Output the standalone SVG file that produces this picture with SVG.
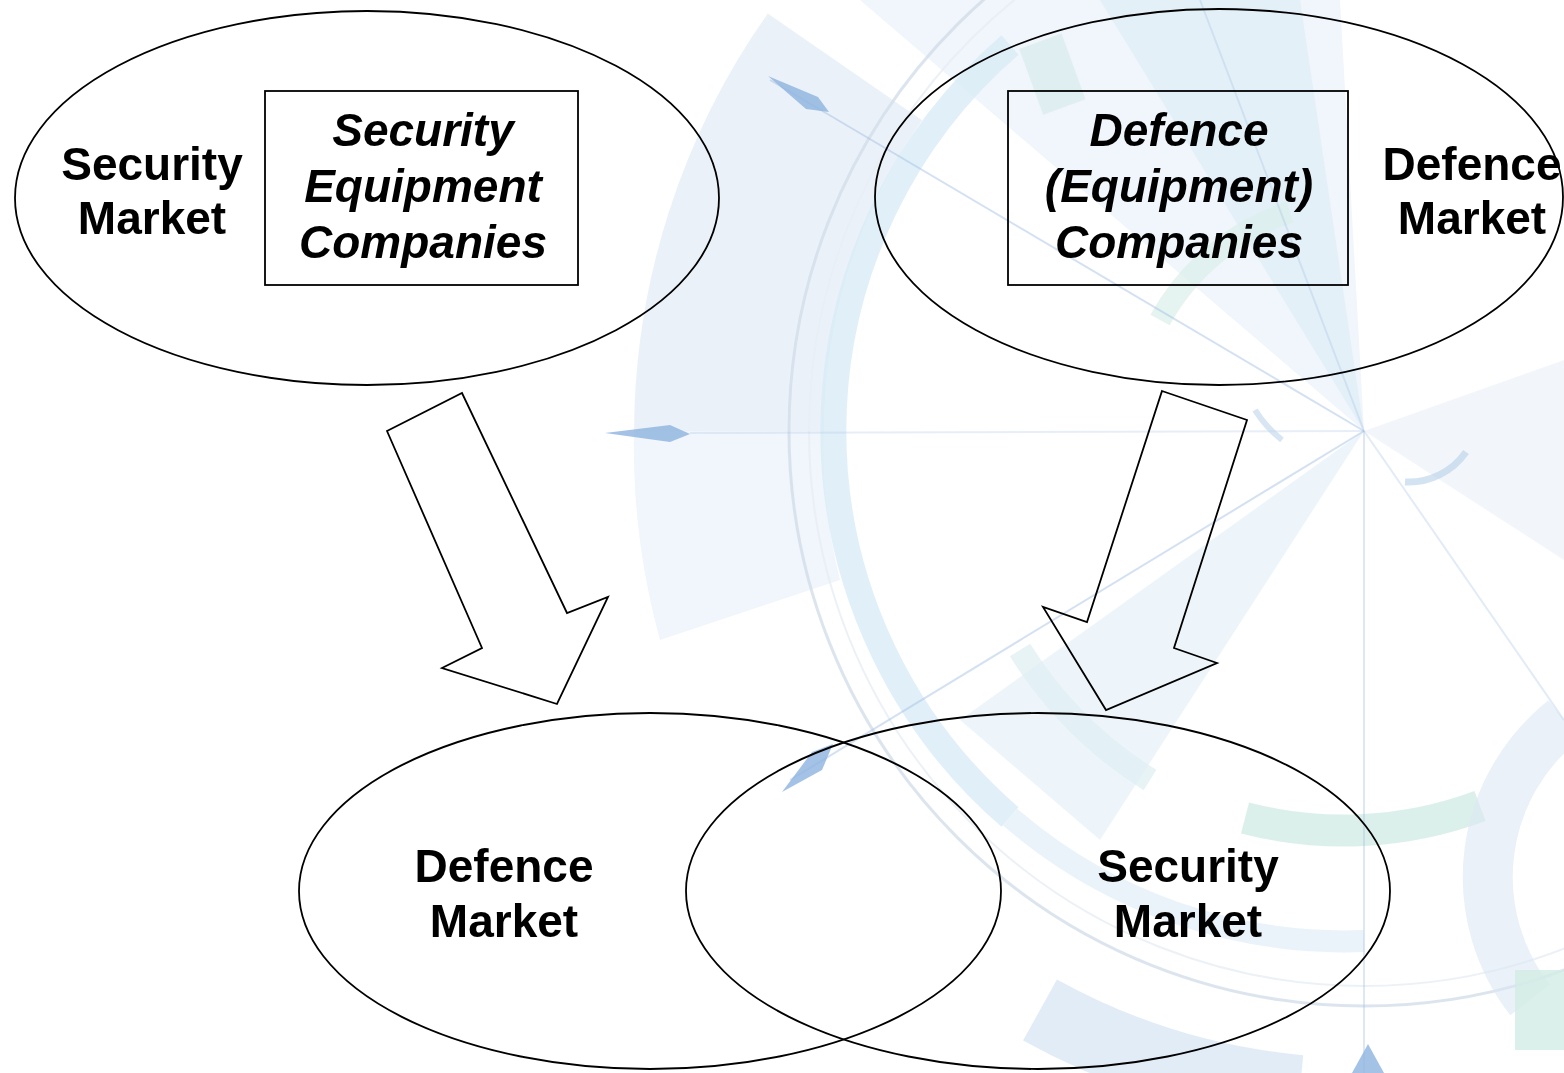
<svg xmlns="http://www.w3.org/2000/svg" width="1564" height="1073" viewBox="0 0 1564 1073">
<style>
.ln{fill:none;stroke:#000;stroke-width:1.8}
.t{font-family:"Liberation Sans",Arial,sans-serif;font-weight:bold;font-size:46px;fill:#000;text-anchor:middle}
.i{font-style:italic}
.bg1{fill:#dde9f5}
.bg2{fill:#c9e3f2}
.bg3{fill:#cfe9e4}
.dia{fill:#6e9fd6}
.ray{stroke:#7ea6d6;stroke-width:2;fill:none}
</style>
<rect width="1564" height="1073" fill="#ffffff"/>
<g id="background" opacity="0.75">
  <!-- fan panels centred on (1364,431) -->
  <path class="bg1" opacity="0.8" d="M 767.8 13.5 A 730 730 0 0 0 634 431 L 824 431 A 540 540 0 0 1 922.1 120.3 Z"/>
  <path class="bg1" opacity="0.6" d="M 634 431 A 730 730 0 0 0 660 640 L 840 580 A 540 540 0 0 1 824 431 Z"/>
  <path class="bg1" opacity="0.6" d="M 860 0 L 1364 431 L 1340 0 Z"/>
  <path class="bg2" opacity="0.5" d="M 1364 431 L 1100 0 L 1300 0 Z"/>
  <path class="bg1" opacity="0.5" d="M 1364 431 L 1564 360 L 1564 560 Z"/>
  <path class="bg2" opacity="0.45" d="M 1364 431 L 960 720 L 1100 840 Z"/>
  <!-- thick band arc -->
  <path fill="none" stroke="#cde6f4" stroke-width="26" opacity="0.8" d="M 1010 45 A 510 510 0 0 0 1010 817"/>
  <path fill="none" stroke="#d5e8f3" stroke-width="22" opacity="0.7" d="M 1010 817 A 510 510 0 0 0 1364 941"/>
  <!-- thin grey circle -->
  <circle cx="1364" cy="431" r="575" fill="none" stroke="#c5d3e2" stroke-width="3" opacity="0.8"/>
  <circle cx="1364" cy="431" r="555" fill="none" stroke="#e0e8f0" stroke-width="2" opacity="0.8"/>
  <!-- teal/green bands -->
  <path fill="none" stroke="#c6e6de" stroke-width="32" opacity="0.8" d="M 1245 818 A 392 392 0 0 0 1480 806"/>
  <path fill="none" stroke="#cfe9e4" stroke-width="22" opacity="0.7" d="M 1160 320 A 232 232 0 0 1 1290 212"/>
  <path fill="none" stroke="#d3e8ee" stroke-width="24" opacity="0.7" d="M 1020 650 A 410 410 0 0 0 1150 780"/>
  <!-- outer blue band at bottom -->
  <path fill="none" stroke="#c7dcf0" stroke-width="70" opacity="0.7" d="M 1040 1010 A 660 660 0 0 0 1300 1090"/>
  <!-- right side circle -->
  <path fill="none" stroke="#cfdff0" stroke-width="50" opacity="0.6" d="M 1564 720 A 200 200 0 0 0 1530 1000"/>
  <rect x="1515" y="970" width="49" height="80" fill="#c4e6dc" opacity="0.8"/>
  <rect x="1030" y="40" width="45" height="70" fill="#c4e2e2" opacity="0.6" transform="rotate(-20 1050 75)"/>
  <!-- radial lines -->
  <line class="ray" x1="1364" y1="431" x2="770" y2="80" opacity="0.45"/>
  <line class="ray" x1="1364" y1="431" x2="790" y2="780" opacity="0.45"/>
  <line class="ray" x1="1364" y1="431" x2="1364" y2="1073" opacity="0.35"/>
  <line class="ray" x1="1364" y1="431" x2="1564" y2="720" opacity="0.3"/>
  <line class="ray" x1="1364" y1="431" x2="1200" y2="0" opacity="0.3"/>
  <line class="ray" x1="1364" y1="431" x2="690" y2="433" opacity="0.25"/>
  <!-- small arc marks -->
  <path fill="none" stroke="#9fbfe0" stroke-width="7" opacity="0.6" d="M 1405 482 A 70 70 0 0 0 1466 452"/>
  <path fill="none" stroke="#a8c6e4" stroke-width="6" opacity="0.6" d="M 1255 410 A 120 120 0 0 0 1282 440"/>
  <!-- diamonds -->
  <polygon class="dia" opacity="0.85" points="768,76 818,97 829,112 806,109"/>
  <polygon class="dia" opacity="0.85" points="605,433 670,425 690,434 670,442"/>
  <polygon class="dia" opacity="0.85" points="782,792 812,752 833,744 822,770"/>
  <polygon class="dia" opacity="0.85" points="1352,1073 1368,1044 1384,1073"/>
</g>

<g id="connectors">
  <polygon id="arrow-left" class="ln" points="387,431 462,393 567,613 608,597 557,704 442,668 482,648"/>
  <polygon id="arrow-right" class="ln" points="1162,391 1247,420 1174,648 1217,663 1106,710 1043,607 1087,622"/>
</g>

<g id="node-security-market-top">
  <ellipse class="ln" cx="367" cy="198" rx="352" ry="187"/>
  <text class="t" x="152" y="180">Security</text>
  <text class="t" x="152" y="234">Market</text>
</g>
<g id="node-security-equipment-companies">
  <rect class="ln" x="265" y="91" width="313" height="194"/>
  <text class="t i" x="423" y="146">Security</text>
  <text class="t i" x="423" y="202">Equipment</text>
  <text class="t i" x="423" y="258">Companies</text>
</g>
<g id="node-defence-market-top">
  <ellipse class="ln" cx="1219" cy="197" rx="344" ry="188"/>
  <text class="t" x="1472" y="180">Defence</text>
  <text class="t" x="1472" y="234">Market</text>
</g>
<g id="node-defence-equipment-companies">
  <rect class="ln" x="1008" y="91" width="340" height="194"/>
  <text class="t i" x="1179" y="146">Defence</text>
  <text class="t i" x="1179" y="202">(Equipment)</text>
  <text class="t i" x="1179" y="258">Companies</text>
</g>
<g id="node-defence-market-bottom">
  <ellipse class="ln" cx="650" cy="891" rx="351" ry="178"/>
  <text class="t" x="504" y="882">Defence</text>
  <text class="t" x="504" y="937">Market</text>
</g>
<g id="node-security-market-bottom">
  <ellipse class="ln" cx="1038" cy="891" rx="352" ry="178"/>
  <text class="t" x="1188" y="882">Security</text>
  <text class="t" x="1188" y="937">Market</text>
</g>
</svg>
